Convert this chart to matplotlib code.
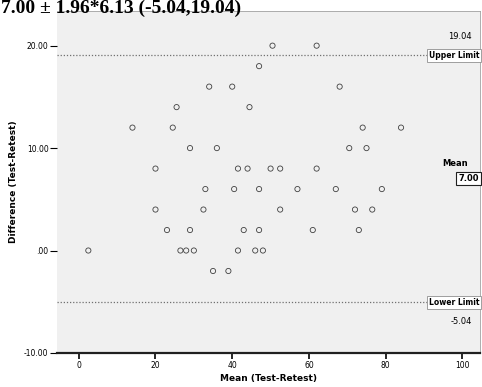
import numpy as np
import matplotlib.pyplot as plt

# Bland-Altman: mean of test/retest vs difference
mean_vals = [50.5, 62.0,
             47.0,
             34.0, 40.0, 68.0,
             25.5, 44.5,
             14.0, 24.5, 74.0, 84.0,
             29.0, 36.0, 70.5, 75.0,
             20.0, 41.5, 44.0, 50.0, 52.5, 62.0,
             33.0, 40.5, 47.0, 57.0, 67.0, 79.0,
             20.0, 32.5, 52.5, 72.0, 76.5,
             23.0, 29.0, 43.0, 47.0, 61.0, 73.0,
             2.5, 26.5, 28.0, 30.0, 41.5, 46.0, 48.0,
             35.0, 39.0]
diff_vals = [20, 20,
             18,
             16, 16, 16,
             14, 14,
             12, 12, 12, 12,
             10, 10, 10, 10,
             8, 8, 8, 8, 8, 8,
             6, 6, 6, 6, 6, 6,
             4, 4, 4, 4, 4,
             2, 2, 2, 2, 2, 2,
             0, 0, 0, 0, 0, 0, 0,
             -2, -2]

mean_diff = 7.00
upper = 19.04
lower = -5.04
title = "7.00 \u00b1 1.96*6.13 (-5.04,19.04)"

x_ticks = [0, 20, 40, 60, 80, 100]
x_labels = ["0", "20", "40", "60", "80", "100"]
y_ticks = [-10, 0, 10, 20]
y_labels = ["-10.00", ".00", "10.00", "20.00"]

fig = plt.figure(figsize=(4.82, 3.87), dpi=100)
ax = fig.add_axes([0.118, 0.088, 0.878, 0.884])
ax.set_facecolor('#f0f0f0')

ax.scatter(mean_vals, diff_vals, s=14, facecolors='none', edgecolors='#404040', linewidths=0.6, zorder=3)

ax.axhline(upper, color='#707070', linestyle=(0, (1, 1.5)), linewidth=0.9)
ax.axhline(lower, color='#707070', linestyle=(0, (1, 1.5)), linewidth=0.9)

ax.set_xlim(-5.7, 104.6)
ax.set_ylim(-10, 23.4)
ax.set_xticks(x_ticks)
ax.set_xticklabels(x_labels, fontsize=5.5)
ax.set_yticks(y_ticks)
ax.set_yticklabels(y_labels, fontsize=5.5)
ax.tick_params(axis='y', length=5, width=0.8, pad=1)
ax.tick_params(axis='x', length=4, width=1.2, pad=2)

ax.spines['left'].set_visible(False)
ax.spines['bottom'].set_linewidth(1.6)
ax.spines['bottom'].set_color('#202020')
for s in ['top', 'right']:
    ax.spines[s].set_color('#a0a0a0')
    ax.spines[s].set_linewidth(0.6)

ax.set_xlabel("Mean (Test-Retest)", fontsize=6.5, fontweight='bold', labelpad=3)
ax.set_ylabel("Difference (Test-Retest)", fontsize=6.5, fontweight='bold', labelpad=4)

box = dict(boxstyle='square,pad=0.25', facecolor='white', edgecolor='#909090', linewidth=0.6)
ax.text(102.5, upper + 1.9, "19.04", fontsize=6, ha='right', va='center')
ax.text(104.4, upper, "Upper Limit", fontsize=5.5, fontweight='bold', ha='right', va='center', bbox=box)
ax.text(104.4, lower, "Lower Limit", fontsize=5.5, fontweight='bold', ha='right', va='center', bbox=box)
ax.text(102.5, lower - 1.9, "-5.04", fontsize=6, ha='right', va='center')
ax.text(101.3, mean_diff + 1.5, "Mean", fontsize=6, fontweight='bold', ha='right', va='center')
ax.text(104.2, mean_diff, "7.00", fontsize=6, fontweight='bold', ha='right', va='center',
        bbox=dict(boxstyle='square,pad=0.25', facecolor='white', edgecolor='#202020', linewidth=0.8))

fig.text(0.002, 1 - 13 / 387, title, fontsize=14, fontweight='bold', family='Liberation Serif',
         ha='left', va='baseline')

fig.savefig('out.png', dpi=100)
